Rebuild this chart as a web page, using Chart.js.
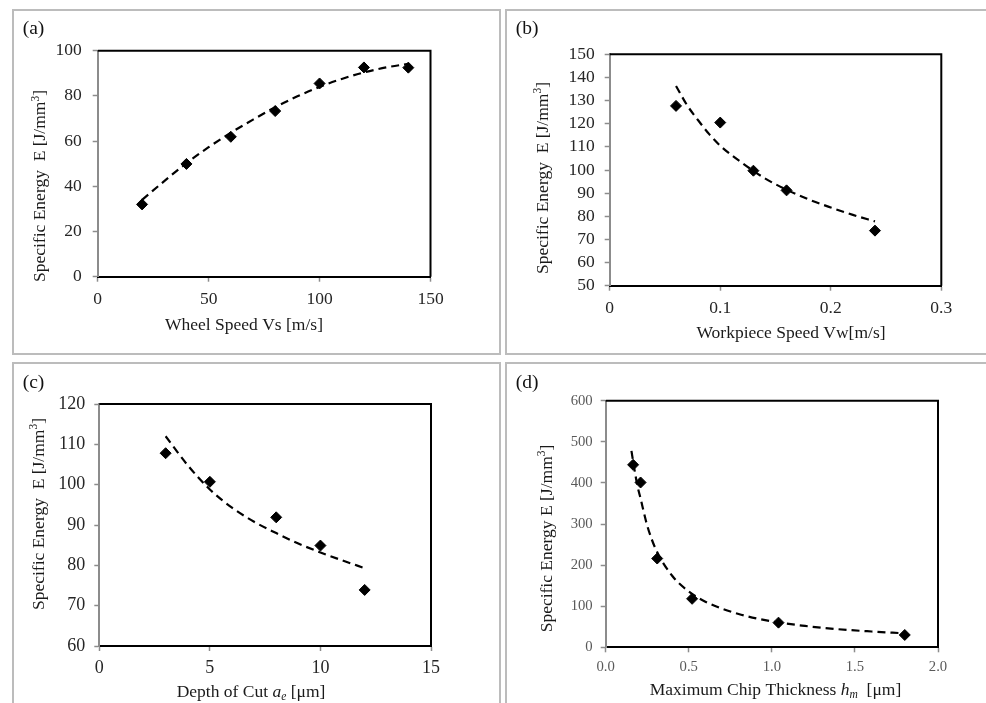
<!DOCTYPE html>
<html>
<head>
<meta charset="utf-8">
<script src="https://cdn.jsdelivr.net/npm/chart.js@4.4.1/dist/chart.umd.min.js"></script>
<style>
  html, body { margin: 0; padding: 0; background: #fff; width: 986px; height: 703px; overflow: hidden; }
  .panel { position: absolute; box-sizing: border-box; border: 2px solid #bcbcbc; background: #fff; }
  .panel canvas { position: absolute; left: 0; top: 0; }
</style>
</head>
<body>
<div class="panel" style="left:12px;top:9px;width:489px;height:346px"><canvas id="chartA" width="485" height="342"></canvas></div>
<div class="panel" style="left:505px;top:9px;width:500px;height:346px"><canvas id="chartB" width="479" height="342"></canvas></div>
<div class="panel" style="left:12px;top:362px;width:489px;height:400px"><canvas id="chartC" width="485" height="339"></canvas></div>
<div class="panel" style="left:505px;top:362px;width:500px;height:400px"><canvas id="chartD" width="479" height="339"></canvas></div>

<script>
// (a) specific energy vs wheel speed
const wheelSpeed = [20, 40, 60, 80, 100, 120, 140];
const energyA = [32.0, 49.9, 61.9, 73.3, 85.5, 92.6, 92.5];
const trendSpeedA = [20, 30, 40, 50, 60, 70, 80, 90, 100, 110, 120, 130, 140];
const trendEnergyA = [34, 42.3, 50.2, 57.3, 63.7, 69.5, 75, 79.8, 84, 87.5, 90.4, 92.6, 94.2];
const xTicksA = [0, 50, 100, 150];
const xLabelsA = ['0', '50', '100', '150'];
const yTicksA = [0, 20, 40, 60, 80, 100];
const yLabelsA = ['0', '20', '40', '60', '80', '100'];

// (b) specific energy vs workpiece speed
const workSpeed = [0.06, 0.10, 0.13, 0.16, 0.24];
const energyB = [127.7, 120.5, 99.7, 91.2, 73.8];
const trendSpeedB = [0.06, 0.07, 0.08, 0.09, 0.10, 0.12, 0.14, 0.16, 0.18, 0.20, 0.22, 0.24];
const trendEnergyB = [136.3, 128, 121.5, 115.5, 110.5, 103, 96.5, 91.5, 87.3, 83.8, 80.6, 77.8];
const xTicksB = [0, 0.1, 0.2, 0.3];
const xLabelsB = ['0', '0.1', '0.2', '0.3'];
const yTicksB = [50, 60, 70, 80, 90, 100, 110, 120, 130, 140, 150];
const yLabelsB = ['50', '60', '70', '80', '90', '100', '110', '120', '130', '140', '150'];

// (c) specific energy vs depth of cut
const depthOfCut = [3, 5, 8, 10, 12];
const energyC = [107.8, 100.7, 91.9, 84.9, 73.9];
const trendDepthC = [3, 4, 5, 6, 7, 8, 9, 10, 11, 12];
const trendEnergyC = [112, 104.8, 98.8, 94.3, 90.8, 88, 85.4, 83.2, 81.2, 79.3];
const xTicksC = [0, 5, 10, 15];
const xLabelsC = ['0', '5', '10', '15'];
const yTicksC = [60, 70, 80, 90, 100, 110, 120];
const yLabelsC = ['60', '70', '80', '90', '100', '110', '120'];

// (d) specific energy vs maximum chip thickness
const chipThickness = [0.165, 0.21, 0.31, 0.52, 1.04, 1.80];
const energyD = [444, 401, 216, 118, 60, 30];
const trendChipD = [0.155, 0.17, 0.19, 0.21, 0.25, 0.3, 0.4, 0.5, 0.6, 0.8, 1.0, 1.2, 1.4, 1.6, 1.8];
const trendEnergyD = [478, 440, 395, 362, 296, 240, 174, 136, 111, 81, 63, 52, 44, 38.5, 34];
const xTicksD = [0, 0.5, 1.0, 1.5, 2.0];
const xLabelsD = ['0.0', '0.5', '1.0', '1.5', '2.0'];
const yTicksD = [0, 100, 200, 300, 400, 500, 600];
const yLabelsD = ['0', '100', '200', '300', '400', '500', '600'];

const SERIF = "'Liberation Serif', 'Times New Roman', serif";
Chart.defaults.font.family = SERIF;

function pairs(xs, ys) { return xs.map((x, i) => ({ x: x, y: ys[i] })); }

// Draws a run of text pieces (plain / italic / sub / sup) centred on (cx, cy)
function drawRuns(ctx, runs, cx, cy, size, color, vertical) {
  const fontOf = r => {
    const s = (r.sub || r.sup) ? size * 0.66 : size;
    return (r.italic ? 'italic ' : '') + s + 'px ' + SERIF;
  };
  ctx.save();
  ctx.translate(cx, cy);
  if (vertical) ctx.rotate(-Math.PI / 2);
  ctx.fillStyle = color;
  ctx.textBaseline = 'alphabetic';
  ctx.textAlign = 'left';
  let total = 0;
  runs.forEach(r => { ctx.font = fontOf(r); total += ctx.measureText(r.t).width; });
  let x = -total / 2;
  const base = size * 0.27;
  runs.forEach(r => {
    ctx.font = fontOf(r);
    let dy = 0;
    if (r.sup) dy = -size * 0.36;
    if (r.sub) dy = size * 0.2;
    ctx.fillText(r.t, x, base + dy);
    x += ctx.measureText(r.t).width;
  });
  ctx.restore();
}

function decorPlugin(spec) {
  return {
    id: 'decor',
    beforeDatasetsDraw(chart) {
      const a = chart.chartArea, ctx = chart.ctx;
      ctx.save();
      ctx.strokeStyle = '#000';
      ctx.lineWidth = 2;
      ctx.beginPath();
      ctx.moveTo(a.left, a.top);
      ctx.lineTo(a.right, a.top);
      ctx.lineTo(a.right, a.bottom);
      ctx.stroke();
      ctx.restore();
    },
    afterDraw(chart) {
      const ctx = chart.ctx;
      ctx.save();
      ctx.font = '19.5px ' + SERIF;
      ctx.fillStyle = '#111';
      ctx.textBaseline = 'alphabetic';
      ctx.fillText(spec.label, spec.labelPos[0], spec.labelPos[1]);
      ctx.restore();
      drawRuns(ctx, spec.xTitle, spec.xTitlePos[0], spec.xTitlePos[1], 17.5, spec.titleColor, false);
      drawRuns(ctx, spec.yTitle, spec.yTitlePos[0], spec.yTitlePos[1], 17.5, spec.titleColor, true);
    }
  };
}

function buildChart(id, o) {
  const canvas = document.getElementById(id);
  const W = canvas.width, H = canvas.height;
  const area = o.area;
  const tickFont = { size: o.tickSize, family: SERIF };
  return new Chart(canvas, {
    type: 'scatter',
    data: {
      datasets: [
        {
          data: o.points,
          showLine: false,
          pointStyle: 'rectRot',
          pointRadius: 5.5,
          pointHoverRadius: 5.5,
          backgroundColor: '#000',
          borderColor: '#000',
          borderWidth: 1,
          order: 0
        },
        {
          data: o.trend,
          showLine: true,
          pointRadius: 0,
          borderColor: '#000',
          borderWidth: 2.2,
          borderDash: [8, 5],
          cubicInterpolationMode: 'monotone',
          fill: false,
          order: 1
        }
      ]
    },
    options: {
      responsive: false,
      animation: false,
      devicePixelRatio: 1,
      events: [],
      layout: { padding: { left: 0, top: area.top, right: W - area.right, bottom: 0 } },
      plugins: { legend: { display: false }, tooltip: { enabled: false } },
      scales: {
        x: {
          type: 'linear',
          min: o.xTicks[0],
          max: o.xTicks[o.xTicks.length - 1],
          afterBuildTicks: s => { s.ticks = o.xTicks.map(v => ({ value: v })); },
          afterFit: s => { s.height = H - area.bottom; s.paddingLeft = 0; s.paddingRight = 0; },
          ticks: {
            callback: (v, i) => o.xLabels[i],
            font: tickFont,
            color: o.tickColor,
            padding: o.xPad,
            maxRotation: 0,
            autoSkip: false
          },
          grid: { display: true, drawOnChartArea: false, drawTicks: true, tickLength: 5, tickColor: '#8c8c8c', tickWidth: 1.5 },
          border: { display: true, color: '#000', width: 2 }
        },
        y: {
          type: 'linear',
          min: o.yTicks[0],
          max: o.yTicks[o.yTicks.length - 1],
          afterBuildTicks: s => { s.ticks = o.yTicks.map(v => ({ value: v })); },
          afterFit: s => { s.width = area.left; s.paddingTop = 0; s.paddingBottom = 0; },
          ticks: {
            callback: (v, i) => o.yLabels[i],
            font: tickFont,
            color: o.tickColor,
            padding: o.yPad,
            autoSkip: false
          },
          grid: { display: true, drawOnChartArea: false, drawTicks: true, tickLength: 5, tickColor: '#8c8c8c', tickWidth: 1.5 },
          border: { display: true, color: '#8c8c8c', width: 2 }
        }
      }
    },
    plugins: [decorPlugin(o.text)]
  });
}

const yTitleStd = [{ t: 'Specific Energy  E [J/mm' }, { t: '3', sup: true }, { t: ']' }];
const yTitleD = [{ t: 'Specific Energy E [J/mm' }, { t: '3', sup: true }, { t: ']' }];

buildChart('chartA', {
  area: { left: 83.7, right: 416.5, top: 39.7, bottom: 265.7 },
  points: pairs(wheelSpeed, energyA),
  trend: pairs(trendSpeedA, trendEnergyA),
  xTicks: xTicksA, xLabels: xLabelsA, yTicks: yTicksA, yLabels: yLabelsA,
  tickSize: 17.5, tickColor: '#262626', xPad: 7, yPad: 11,
  text: {
    label: '(a)', labelPos: [8.7, 23],
    xTitle: [{ t: 'Wheel Speed Vs [m/s]' }], xTitlePos: [230, 314],
    yTitle: yTitleStd, yTitlePos: [26.5, 175],
    titleColor: '#1a1a1a'
  }
});

buildChart('chartB', {
  area: { left: 102.7, right: 434.3, top: 43.3, bottom: 274.7 },
  points: pairs(workSpeed, energyB),
  trend: pairs(trendSpeedB, trendEnergyB),
  xTicks: xTicksB, xLabels: xLabelsB, yTicks: yTicksB, yLabels: yLabelsB,
  tickSize: 17.5, tickColor: '#262626', xPad: 7, yPad: 10,
  text: {
    label: '(b)', labelPos: [8.7, 23],
    xTitle: [{ t: 'Workpiece Speed Vw[m/s]' }], xTitlePos: [284, 322],
    yTitle: yTitleStd, yTitlePos: [36, 167],
    titleColor: '#1a1a1a'
  }
});

buildChart('chartC', {
  area: { left: 85.3, right: 417, top: 40, bottom: 282 },
  points: pairs(depthOfCut, energyC),
  trend: pairs(trendDepthC, trendEnergyC),
  xTicks: xTicksC, xLabels: xLabelsC, yTicks: yTicksC, yLabels: yLabelsC,
  tickSize: 18, tickColor: '#262626', xPad: 6.5, yPad: 9,
  text: {
    label: '(c)', labelPos: [8.7, 23.5],
    xTitle: [{ t: 'Depth of Cut ' }, { t: 'a', italic: true }, { t: 'e', italic: true, sub: true }, { t: ' [\u03bcm]' }],
    xTitlePos: [237, 328],
    yTitle: yTitleStd, yTitlePos: [25, 150],
    titleColor: '#1a1a1a'
  }
});

buildChart('chartD', {
  area: { left: 98.7, right: 431, top: 36.7, bottom: 283.3 },
  points: pairs(chipThickness, energyD),
  trend: pairs(trendChipD, trendEnergyD),
  xTicks: xTicksD, xLabels: xLabelsD, yTicks: yTicksD, yLabels: yLabelsD,
  tickSize: 14.7, tickColor: '#595959', xPad: 5.6, yPad: 8,
  text: {
    label: '(d)', labelPos: [8.7, 23.5],
    xTitle: [{ t: 'Maximum Chip Thickness ' }, { t: 'h', italic: true }, { t: 'm', italic: true, sub: true }, { t: '  [\u03bcm]' }],
    xTitlePos: [268.5, 326],
    yTitle: yTitleD, yTitlePos: [40, 174.5],
    titleColor: '#1a1a1a'
  }
});
</script>
</body>
</html>
